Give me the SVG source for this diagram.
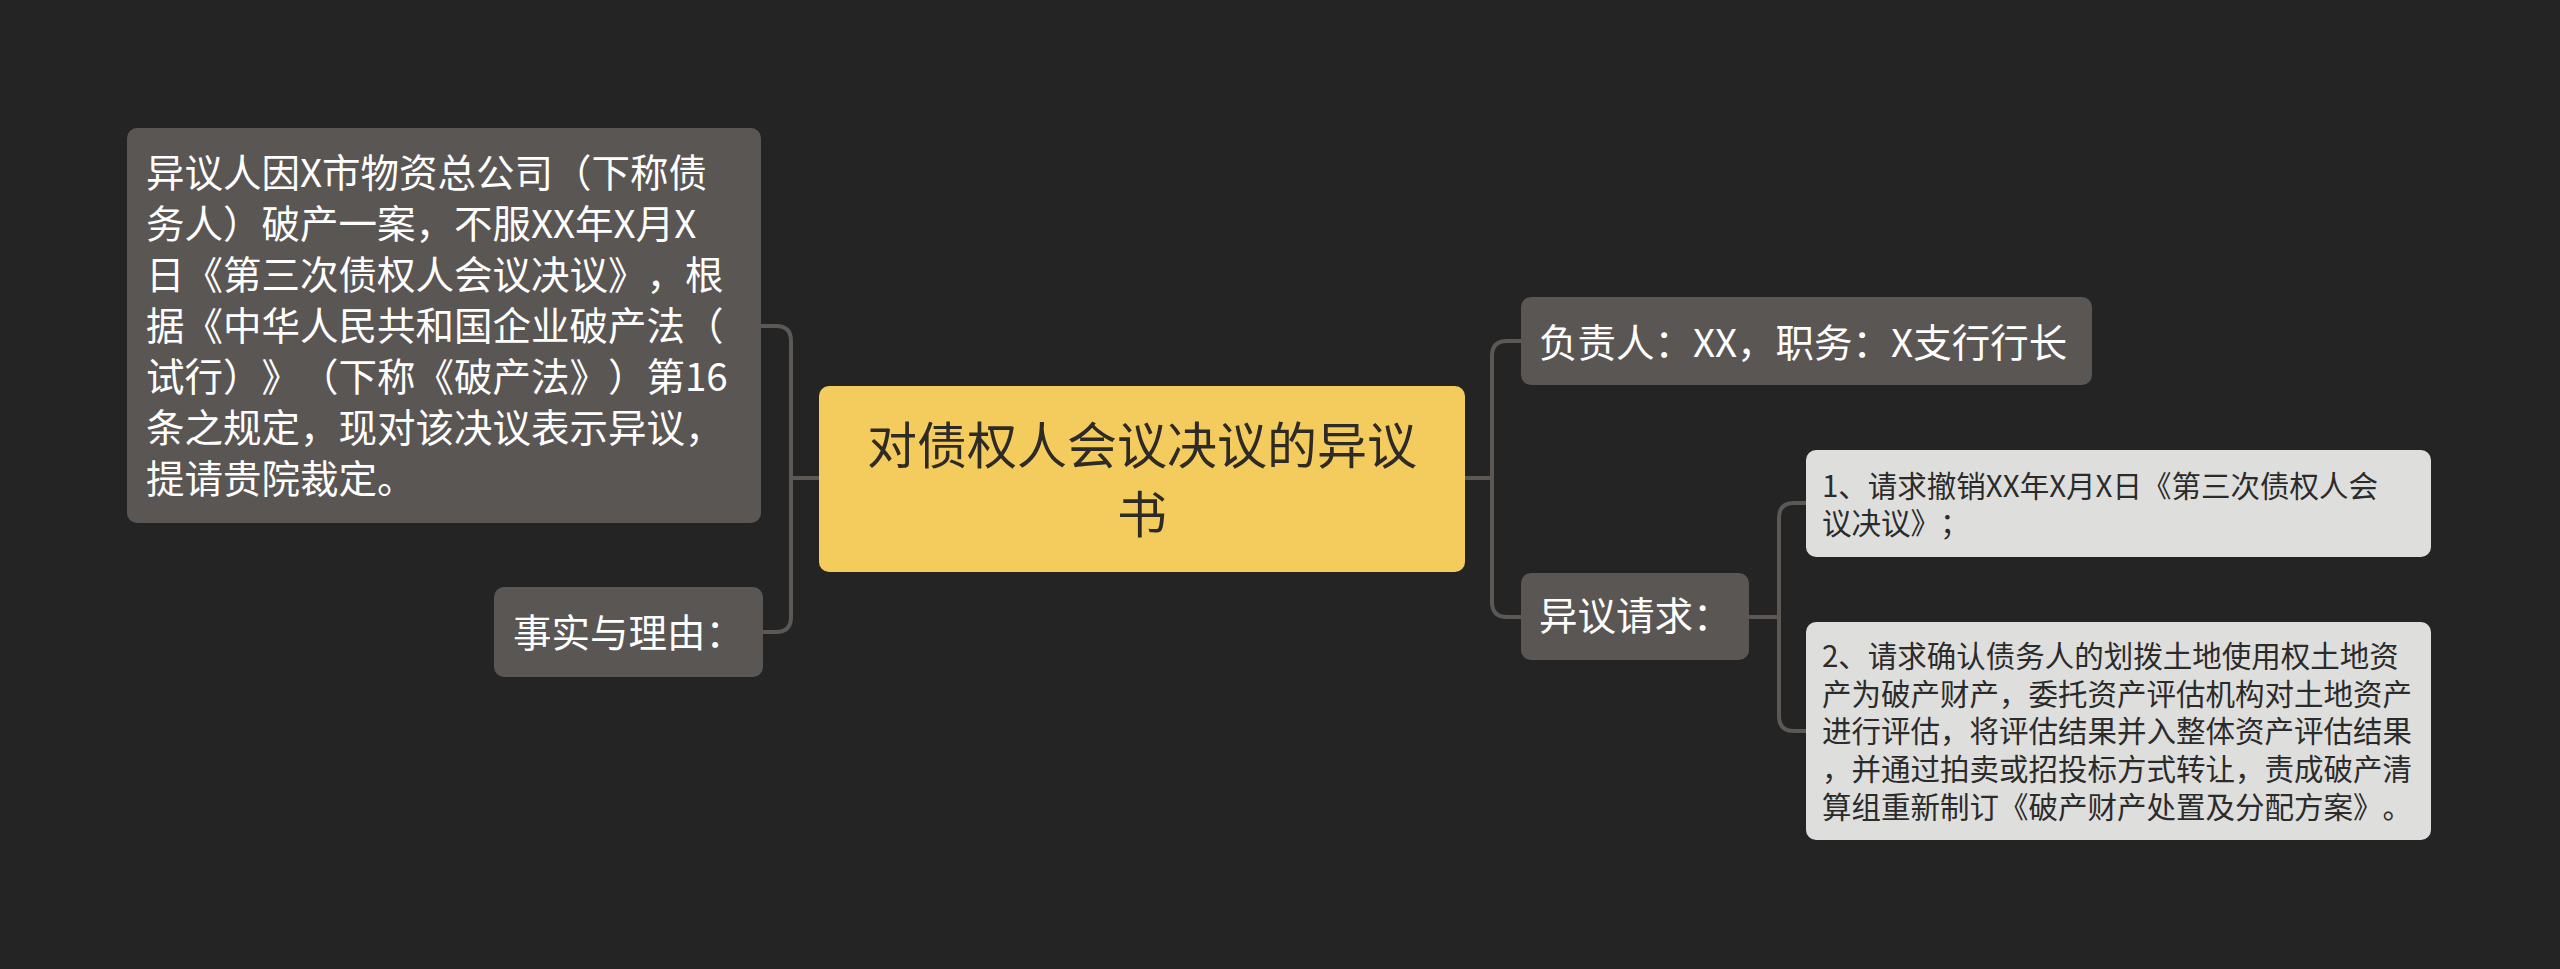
<svg xmlns="http://www.w3.org/2000/svg" width="2560" height="969" viewBox="0 0 2560 969">
<style>
.bg{fill:#242424}
.dark{fill:#5a5654}
.root{fill:#f4cc5e}
.light{fill:#dededc}
.t{font-family:"Noto Sans CJK SC","Noto Sans",sans-serif;text-spacing-trim:space-all;font-feature-settings:"chws" 0,"halt" 0}
.tw{fill:#ffffff;font-size:38.5px}
.tc{fill:#2e2b26;font-size:50px;text-anchor:middle}
.tl{fill:#2b2b2b;font-size:29.5px}
.conn{fill:none;stroke:#5b5855;stroke-width:4}
</style>
<rect class="bg" x="0" y="0" width="2560" height="969"/>
<g id="connectors">
<path class="conn" d="M819,478 H791"/>
<path class="conn" d="M761,326 H776 Q791,326 791,341 V617 Q791,632 776,632 H763"/>
<path class="conn" d="M1465,478 H1492"/>
<path class="conn" d="M1521,341 H1507 Q1492,341 1492,356 V602 Q1492,617 1507,617 H1521"/>
<path class="conn" d="M1749,617 H1779"/>
<path class="conn" d="M1806,503 H1794 Q1779,503 1779,518 V716 Q1779,731 1794,731 H1806"/>
</g>
<g id="root">
<rect class="root" x="819" y="386" width="646" height="186" rx="10"/>
<text class="t tc"><tspan x="1142" y="464">对债权人会议决议的异议</tspan><tspan x="1142" y="533">书</tspan></text>
</g>
<g id="node-facts">
<rect class="dark" x="127" y="128" width="634" height="395" rx="10"/>
<text class="t tw"><tspan x="146" y="187">异议人因X市物资总公司（下称债</tspan><tspan x="146" y="238">务人）破产一案，不服XX年X月X</tspan><tspan x="146" y="289">日《第三次债权人会议决议》，根</tspan><tspan x="146" y="340">据《中华人民共和国企业破产法（</tspan><tspan x="146" y="391">试行）》（下称《破产法》）第16</tspan><tspan x="146" y="442">条之规定，现对该决议表示异议，</tspan><tspan x="146" y="493">提请贵院裁定。</tspan></text>
</g>
<g id="node-reason">
<rect class="dark" x="494" y="587" width="269" height="90" rx="10"/>
<text class="t tw" x="513" y="647">事实与理由：</text>
</g>
<g id="node-person">
<rect class="dark" x="1521" y="297" width="571" height="88" rx="10"/>
<text class="t tw" x="1539" y="357">负责人：XX，职务：X支行行长</text>
</g>
<g id="node-request">
<rect class="dark" x="1521" y="573" width="228" height="87" rx="10"/>
<text class="t tw" x="1539" y="630">异议请求：</text>
</g>
<g id="node-req1">
<rect class="light" x="1806" y="450" width="625" height="107" rx="10"/>
<text class="t tl"><tspan x="1822" y="497">1、请求撤销XX年X月X日《第三次债权人会</tspan><tspan x="1822" y="534">议决议》；</tspan></text>
</g>
<g id="node-req2">
<rect class="light" x="1806" y="622" width="625" height="218" rx="10"/>
<text class="t tl"><tspan x="1822" y="667">2、请求确认债务人的划拨土地使用权土地资</tspan><tspan x="1822" y="705">产为破产财产，委托资产评估机构对土地资产</tspan><tspan x="1822" y="742">进行评估，将评估结果并入整体资产评估结果</tspan><tspan x="1822" y="780">，并通过拍卖或招投标方式转让，责成破产清</tspan><tspan x="1822" y="818">算组重新制订《破产财产处置及分配方案》。</tspan></text>
</g>
</svg>
